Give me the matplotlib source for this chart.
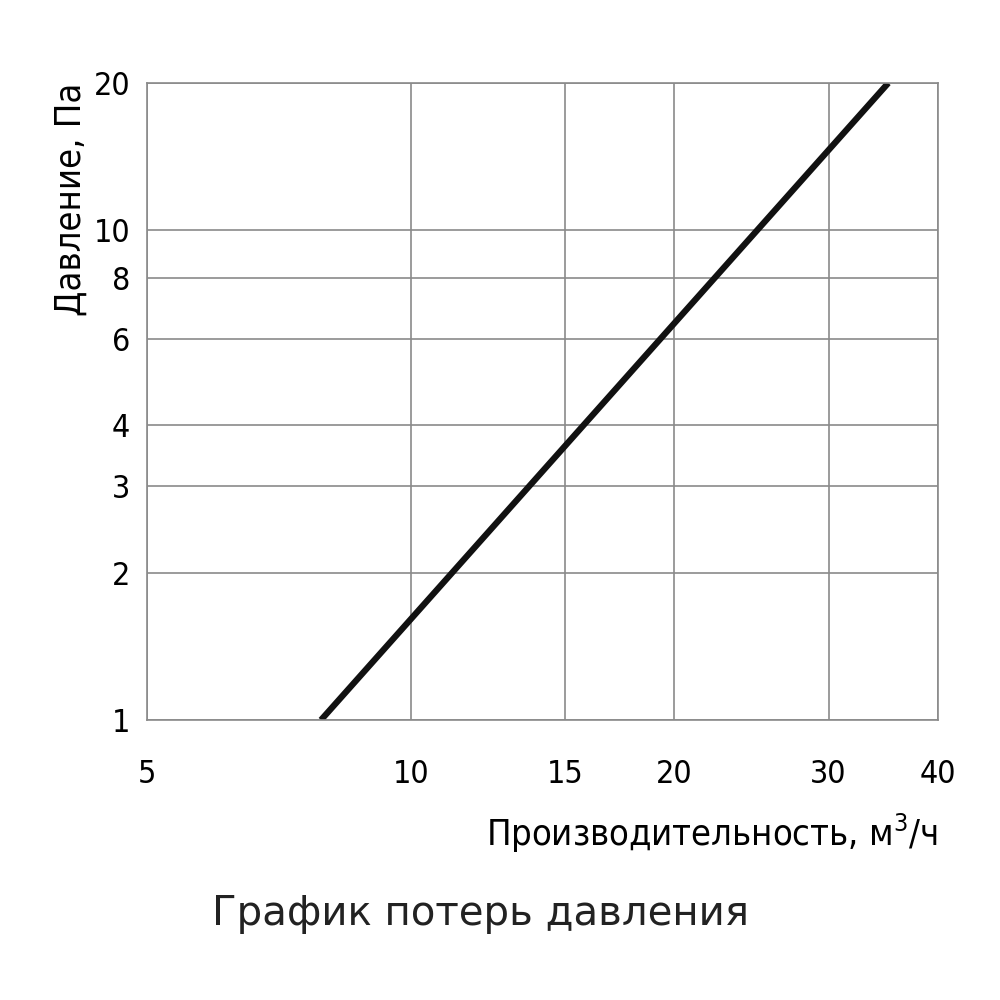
import matplotlib.pyplot as plt
from matplotlib.ticker import FixedLocator, NullLocator

plt.rcParams['font.family'] = ['DejaVu Sans']
plt.rcParams['font.stretch'] = 'condensed'

# данные
flow = [7.9, 35.1]       # м3/ч
pressure = [1.0, 20.0]   # Па
x_ticks = [5, 10, 15, 20, 30, 40]
y_ticks = [1, 2, 3, 4, 6, 8, 10, 20]

fig = plt.figure(figsize=(10, 10), dpi=100)
ax = fig.add_axes([0.147, 0.28, 0.791, 0.637])
ax.set_xscale('log')
ax.set_yscale('log')
ax.set_xlim(5, 40)
ax.set_ylim(1, 20)

ax.xaxis.set_major_locator(FixedLocator(x_ticks))
ax.yaxis.set_major_locator(FixedLocator(y_ticks))
ax.xaxis.set_minor_locator(NullLocator())
ax.yaxis.set_minor_locator(NullLocator())
ax.set_xticklabels([str(v) for v in x_ticks], fontsize=23)
ax.set_yticklabels([str(v) for v in y_ticks], fontsize=23)
ax.tick_params(length=0, pad=12)
ax.tick_params(axis='x', pad=28)

ax.grid(True, color='#8a8a8a', linewidth=1.2)
for s in ax.spines.values():
    s.set_color('#8a8a8a')
    s.set_linewidth(1.2)

ax.plot(flow, pressure, color='#111111', linewidth=4.5, solid_capstyle='butt')

ax.set_xlabel('Производительность, м$^3$/ч', fontsize=26, loc='right', labelpad=16)
ax.set_ylabel('Давление, Па', fontsize=26, loc='top', labelpad=4)

fig.text(0.48, 0.075, 'График потерь давления', fontsize=29, ha='center',
         stretch='normal', color='#222222')

fig.savefig('out.png')
